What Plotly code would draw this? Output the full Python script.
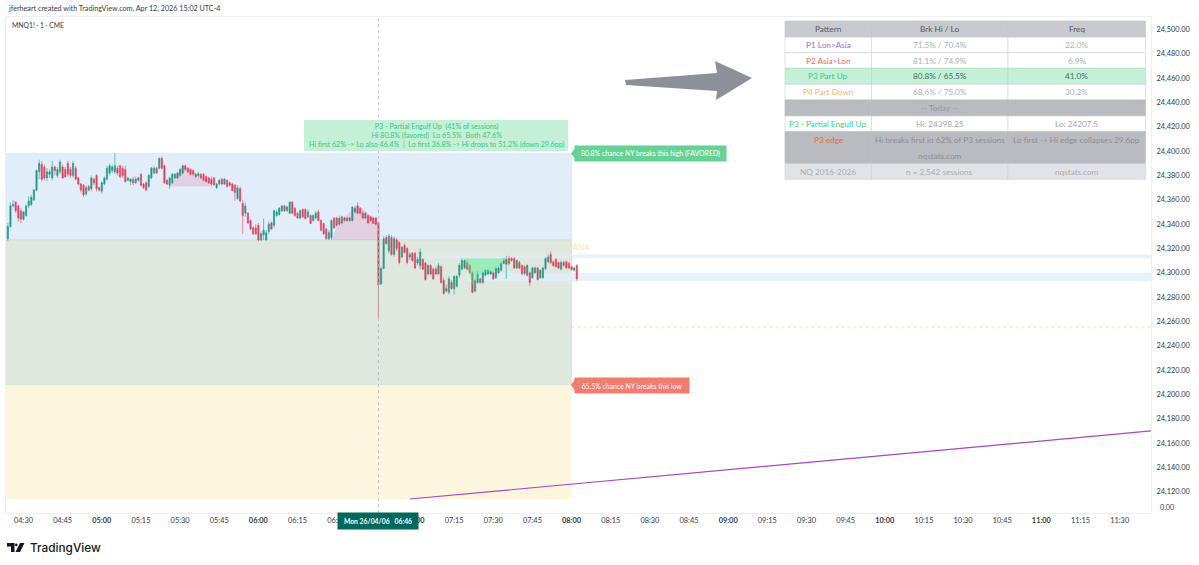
import pandas as pd
import plotly.graph_objects as go

W, H = 1199, 565
L, R, T, B = 6, 1151, 17, 513

# candle prices are offsets from 24000, one candle a minute from 04:24
BASE = 24000
open_off = [328, 338, 355, 358, 355, 351, 344, 347, 355, 356, 360, 368, 383, 389, 387, 378, 381, 378, 387, 380,
            383, 387, 385, 390, 385, 380, 386, 378, 373, 372, 365, 371, 369, 377, 380, 370, 367, 373, 377, 382,
            384, 383, 386, 388, 386, 385, 376, 375, 377, 374, 376, 381, 373, 374, 371, 378, 382, 386, 386, 394,
            388, 376, 372, 374, 378, 378, 380, 382, 388, 386, 385, 384, 379, 380, 381, 381, 379, 378, 377, 378,
            370, 373, 377, 373, 376, 374, 373, 372, 361, 369, 357, 349, 349, 343, 337, 337, 339, 327, 331, 327,
            334, 341, 339, 347, 348, 351, 355, 351, 349, 358, 353, 349, 345, 352, 352, 346, 347, 343, 345, 350,
            343, 340.5, 336, 328, 329, 345, 345, 340, 346, 343, 345, 343, 343, 350, 355, 353, 349, 345, 347, 346,
            345, 345, 341, 291, 303.5, 329, 318, 329, 315, 327, 325, 313, 322.5, 320, 313, 316, 316, 308, 306, 311,
            308, 299, 306, 303, 303, 299, 305, 293.6, 285, 284, 292, 287, 289, 298, 303, 304, 308, 306, 300, 285,
            292, 295, 292, 298, 299, 299, 300, 296, 300, 302, 307.6, 307, 311.7, 311.7, 311.7, 304, 308.4, 306, 305, 298,
            300, 296, 300, 304, 296, 296, 303.5, 309, 315, 309, 311, 308.4, 303, 308.4, 309, 307.6, 305, 302, 306]
close_off = [338, 355, 356, 351, 345, 344, 350, 355, 359, 362, 368, 384, 390, 377, 378, 383, 383, 387, 384, 385,
             391, 378, 379, 381, 380, 390, 377, 373, 368, 364, 370, 368, 378, 374, 369, 368, 374, 378, 386, 388,
             387, 388, 382, 379, 380, 375, 378, 377, 374, 377, 378, 372, 370, 368, 380, 386, 386, 382, 394, 386,
             374, 373, 378, 381, 381, 382, 385, 388, 385, 383, 381, 381, 381, 381.5, 378, 376, 375, 374, 373, 372.5,
             373, 376, 373, 377, 371, 372, 367.5, 366, 370, 359, 347, 355, 341, 336, 332, 332, 327, 332, 335, 333,
             340, 336, 351, 350, 353, 355, 351, 354, 358, 349, 347, 345, 351, 346, 344.5, 350, 340.5, 347, 349, 343,
             335, 332, 328, 333, 343, 337, 339, 345, 341, 345, 343, 345, 354, 353, 349, 349, 345, 349, 341, 343,
             340.5, 340, 290, 303.5, 328, 324, 330, 315, 328, 320, 308.4, 321, 316.6, 308.4, 315, 310, 304, 311, 317, 303,
             294.5, 306, 299, 295, 299, 306, 292, 283, 287, 295, 287, 297, 297, 306, 310, 310, 303, 300, 284, 293.6,
             299, 292, 300, 302, 302, 301, 295, 303.5, 304, 307.6, 310, 311, 307.6, 310, 304, 310, 304, 299.4, 299.4, 306,
             292, 304, 304, 294.5, 302, 304, 311.7, 313, 308.4, 306, 305, 304, 308.4, 306, 304, 304, 302.5, 304, 295]
high_off = [341, 358, 360, 359, 356, 353, 351, 356, 363, 364, 369, 385, 393, 392, 389, 386, 385, 392, 388, 387,
            393, 389, 387, 392, 387, 392, 388, 379, 374, 373, 372, 372, 380, 378, 381, 371, 375, 379, 388, 390,
            389, 398.25, 388, 389, 388, 388, 379, 378, 379, 379, 379, 382, 374, 375, 381, 387, 388, 387, 395, 396,
            389, 377, 379, 382, 382, 383, 386, 389, 389, 387, 386, 385, 382, 383, 382, 382, 380, 379, 379, 379,
            374, 377, 378, 378, 377, 375, 374, 373, 372, 371, 360, 358, 350, 344, 338, 340, 341, 334, 344.5, 335,
            342, 342, 352, 352, 354, 356, 356, 355, 359, 359, 354, 350, 352, 353, 353, 352, 348, 348, 351, 352,
            344, 341, 337, 335, 344, 346, 346, 347, 347, 346, 346, 346, 355, 355, 358, 354, 351, 350, 348, 347,
            346, 346, 342, 305, 330, 331, 332, 331, 330, 329, 326, 322, 324, 321, 317, 317, 317, 313, 320, 312,
            309, 307, 307, 304, 305, 308, 306, 296, 290, 297, 294, 298, 298, 308, 312, 311, 310, 307, 301, 295,
            301, 296, 301, 303, 303, 302, 301, 305, 306, 309, 312, 314, 314, 313, 313, 311, 310, 307, 306, 307,
            301, 305, 305, 305, 303, 305, 313, 315, 317.5, 310, 312, 309, 310, 310, 310, 309, 306, 305, 307]
low_off = [326, 337, 354, 349, 342, 341, 343, 346, 353, 355, 359, 367, 377, 375, 376, 375, 378, 376, 380, 378,
           381, 377, 378, 379, 378, 378, 376, 372, 366, 362, 363, 367, 367, 372, 367, 367, 365, 372, 376, 380,
           382, 381, 380, 378, 378, 374, 375, 372, 372, 373, 375, 371, 369, 367, 370, 377, 381, 381, 385, 385,
           373, 372, 369, 373, 377, 377, 379, 381, 384, 382, 380, 380, 378, 379, 377, 375, 374, 373, 372, 372,
           369, 372, 372, 372, 370, 371, 367, 359, 360, 358, 332, 346, 340, 335, 331, 331, 326, 326, 327, 326.5,
           332, 335, 337, 346, 347, 350, 350, 350, 348, 348, 346, 344, 344, 345, 344, 345, 340, 342, 344, 342,
           334, 331, 327, 327, 327, 336, 338, 339, 340, 342, 342, 342, 342, 349, 348, 348, 344, 344, 340, 342,
           340, 339, 263, 290, 303, 323, 316, 314, 313, 318, 307, 312, 316, 307, 311, 309, 303, 306, 303, 302,
           293.5, 298, 298, 294, 298, 298, 291, 282, 284, 282, 286, 282, 288, 296, 302, 303, 302, 299, 283, 284,
           291, 291, 291, 297, 298, 298, 294, 295, 299, 301, 307, 295, 306, 309, 303, 303, 303, 298, 298, 297,
           289, 295, 299, 293.5, 295, 295, 302, 308, 307, 305, 304, 303, 302, 305, 303, 303, 302, 301, 293.5]

# levels from the table and the zones drawn on the chart
zone_hi = 24398.25
zone_mid = 24327
zone_lo = 24207.5
zone_floor = 24114
band1 = (24312, 24315)
band2 = (24293, 24300)
dotted_level = 24255.5

pink1_t = ["05:26", "05:31", "05:37", "05:44"]
pink1_p = [24371, 24388, 24381, 24371]
pink2_t = ["06:28", "06:31", "06:38", "06:46", "06:46"]
pink2_p = [24327, 24342, 24356, 24342, 24327]
green_t = ["07:19", "07:22", "07:26", "07:30", "07:35"]
green_p = [24311.7, 24290, 24300, 24301, 24311.7]
trend_t = ["06:58", "11:42"]
trend_p = [24114, 24170]

time_labels = ["04:30", "04:45", "05:00", "05:15", "05:30", "05:45", "06:00", "06:15", "06:30", "06:45", "07:00",
               "07:15", "07:30", "07:45", "08:00", "08:15", "08:30", "08:45", "09:00", "09:15", "09:30", "09:45",
               "10:00", "10:15", "10:30", "10:45", "11:00", "11:15", "11:30"]
price_ticks = [24120, 24140, 24160, 24180, 24200, 24220, 24240, 24260, 24280, 24300, 24320, 24340, 24360, 24380,
               24400, 24420, 24440, 24460, 24480, 24500]

table_rows = [
    ["Pattern", "Brk Hi / Lo", "Freq"],
    ["P1 Lon>Asia", "71.5% / 70.4%", "22.0%"],
    ["P2 Asia>Lon", "81.1% / 74.9%", "6.9%"],
    ["P3 Part Up", "80.8% / 65.5%", "41.0%"],
    ["P4 Part Down", "68.6% / 75.0%", "30.2%"],
    ["", "-- Today --", ""],
    ["P3 - Partial Engulf Up", "Hi: 24398.25", "Lo: 24207.5"],
    ["P3 edge", "Hi breaks first in 62% of P3 sessions", "Lo first -> Hi edge collapses 29.6pp"],
    ["NQ 2016-2026", "n = 2,542 sessions", "nqstats.com"],
]
row_fill = ["#c9cacf", "#ffffff", "#ffffff", "#c4f0d7", "#ffffff", "#b9bbc1", "#ffffff", "#b9bbc1", "#e2e3e8"]
row_line = ["#c4c5ca", "#d5d7db", "#d5d7db", "#aee0c4", "#d5d7db", "#b9bbc1", "#d5d7db", "#b9bbc1", "#d0d2d7"]
name_color = ["#55575e", "#a66bc4", "#e8685f", "#35c987", "#f2b26e", "#9a9ca2", "#2fd488", "#d9743c", "#a9abb1"]
value_color = ["#55575e", "#adafb4", "#adafb4", "#3f6f57", "#adafb4", "#94969c", "#a3a5aa", "#8d8f95", "#a9abb1"]

# table grid in page pixels
col_edges = [785, 871.5, 1008, 1145.5]
row_edges = [21, 37.3, 52.7, 68.3, 84.3, 100, 116, 131.7, 163.7, 179.3]

FONT = "Lato, sans-serif"
INK = "#363a45"


# pixel in the page -> paper fraction, paper is the plot area
def px(x):
    return (x - L) / (R - L)


def py(y):
    return (B - y) / (B - T)


def clock(s):
    return f"2026-04-06 {s}"


def poly(points):
    return "M " + " L ".join(f"{px(a):.5f},{py(b):.5f}" for a, b in points) + " Z"


df = pd.DataFrame({"open": open_off, "high": high_off, "low": low_off, "close": close_off}) + BASE
df.index = pd.date_range("2026-04-06 04:24", periods=len(df), freq="min")

fig = go.Figure()
for name, ts, ps, col in [("pink1", pink1_t, pink1_p, "rgba(226,60,100,0.17)"),
                          ("pink2", pink2_t, pink2_p, "rgba(226,60,100,0.17)"),
                          ("green", green_t, green_p, "rgba(60,240,130,0.42)")]:
    fig.add_trace(go.Scatter(x=[clock(t) for t in ts], y=ps, mode="lines", fill="toself", fillcolor=col,
                             line=dict(width=0), name=name, showlegend=False, hoverinfo="skip"))
fig.add_trace(go.Candlestick(x=df.index, open=df["open"], high=df["high"], low=df["low"], close=df["close"],
                             increasing=dict(line=dict(color="#1f9a84", width=0.6), fillcolor="#1f9a84"),
                             decreasing=dict(line=dict(color="#e2405c", width=0.6), fillcolor="#e2405c"),
                             showlegend=False, name="MNQ1!"))
fig.add_trace(go.Scatter(x=[clock(t) for t in trend_t], y=trend_p, mode="lines",
                         line=dict(color="#ab47bc", width=1.2), showlegend=False))

start, end, now = clock("04:23:18"), clock("08:00"), clock("06:46")
shapes = [
    dict(type="rect", x0=start, x1=end, y0=zone_mid, y1=zone_hi, fillcolor="#e1eefa",
         line=dict(color="#cfe3f5", width=0.6), layer="below"),
    dict(type="rect", x0=start, x1=end, y0=zone_lo, y1=zone_mid, fillcolor="#dfe8de",
         line=dict(color="#cdd9cc", width=0.6), layer="below"),
    dict(type="rect", x0=start, x1=end, y0=zone_floor, y1=zone_lo, fillcolor="#fdf6de",
         line=dict(width=0), layer="below"),
    dict(type="rect", x0=clock("07:00"), x1=clock("11:42"), y0=band1[0], y1=band1[1], fillcolor="rgba(225,238,250,0.7)",
         line=dict(width=0), layer="below"),
    dict(type="rect", x0=clock("07:20"), x1=clock("11:42"), y0=band2[0], y1=band2[1], fillcolor="rgba(225,238,250,0.8)",
         line=dict(width=0), layer="below"),
    dict(type="line", x0=end, x1=clock("11:42"), y0=dotted_level, y1=dotted_level,
         line=dict(color="#f6dcc0", width=1, dash="dot")),
    dict(type="line", x0=now, x1=now, yref="paper", y0=0, y1=1, line=dict(color="#a9afb6", width=0.7, dash="dot")),
    dict(type="rect", xref="paper", yref="paper", x0=px(304), x1=px(568), y0=py(151), y1=py(120),
         fillcolor="#c5f0d8", line=dict(width=0)),
    # big arrow
    dict(type="path", xref="paper", yref="paper", fillcolor="#8e9099", line=dict(width=0),
         path=poly([(625, 80), (717, 73), (715, 61), (752, 78), (716, 100), (717, 91), (626, 85)])),
    # label pointers
    dict(type="path", xref="paper", yref="paper", fillcolor="#62d394", line=dict(width=0),
         path=poly([(571, 153.5), (576, 147), (576, 160)])),
    dict(type="path", xref="paper", yref="paper", fillcolor="#f27c70", line=dict(width=0),
         path=poly([(571, 385), (576, 378), (576, 392)])),
    # TradingView logo
    dict(type="path", xref="paper", yref="paper", fillcolor="#131722", line=dict(width=0),
         path=poly([(7, 543), (14.5, 543), (14.5, 552), (11, 552), (11, 546.5), (7, 546.5)])),
    dict(type="circle", xref="paper", yref="paper", x0=px(15), x1=px(17.6), y0=py(546.2), y1=py(543.6),
         fillcolor="#131722", line=dict(width=0)),
    dict(type="path", xref="paper", yref="paper", fillcolor="#131722", line=dict(width=0),
         path=poly([(20, 543), (24.5, 543), (20, 552), (15.5, 552)])),
]


def note(text, x, y, size=8, color=INK, anchor="left", **kw):
    return dict(text=text, xref="paper", yref="paper", x=px(x), y=py(y), xanchor=anchor, yanchor="middle",
                showarrow=False, font=dict(family=FONT, size=size, color=color), **kw)


annotations = [
    note("jferheart created with TradingView.com, Apr 12, 2026 15:02 UTC-4", 6, 8, 7.2),
    note("MNQ1! · 1 · CME", 10, 24.5, 6.8),
    note("P3 - Partial Engulf Up  (41% of sessions)<br>Hi 80.8% (favored)  Lo 65.5%  Both 47.6%<br>"
         "Hi first 62% -> Lo also 46.4%  |  Lo first 36.8% -> Hi drops to 51.2% (down 29.6pp)",
         436, 135.5, 7.1, "#34c77f", anchor="center", align="center"),
    note("80.8% chance NY breaks this high (FAVORED)", 650.5, 153.5, 6.9, "#ffffff", anchor="center",
         bgcolor="#62d394", width=149, height=13),
    note("65.5% chance NY breaks this low", 632, 385, 6.9, "#ffffff", anchor="center",
         bgcolor="#f27c70", width=112, height=13),
    note("ASIA", 571, 247, 7.5, "#f6e3ab"),
    note("0.00", 1158, 507, 7.2),
    note("<b>Mon 26/04/06   06:46</b>", 378, 520.5, 6.8, "#ffffff", anchor="center", bgcolor="#00695c",
         width=78, height=14),
    dict(text="TradingView", xref="paper", yref="paper", x=px(28), y=py(547.5), xanchor="left", yanchor="middle",
         showarrow=False, font=dict(family="Inter, sans-serif", size=11.8, color="#131722", weight=500)),
]

# the pattern table, cell by cell
for r, row in enumerate(table_rows):
    top, bottom = row_edges[r], row_edges[r + 1]
    for c, text in enumerate(row):
        shapes.append(dict(type="rect", xref="paper", yref="paper", x0=px(col_edges[c]), x1=px(col_edges[c + 1]),
                           y0=py(bottom), y1=py(top), fillcolor=row_fill[r],
                           line=dict(color=row_line[r], width=0.7)))
        color = name_color[r] if c == 0 else value_color[r]
        mid = (col_edges[c] + col_edges[c + 1]) / 2
        # the edge row is two lines tall, its text sits on the first line
        if text:
            annotations.append(note(text, mid, top + 7.9, 8.2, color, anchor="center"))
annotations.append(note("nqstats.com", (col_edges[1] + col_edges[2]) / 2, 155.7, 8.2, value_color[7], anchor="center"))

tick_text = [f"<b>{t}</b>" if t.endswith(":00") else t for t in time_labels]

fig.update_layout(
    width=W, height=H, autosize=False,
    margin=dict(l=L, r=W - R, t=T, b=H - B, pad=0),
    paper_bgcolor="#ffffff", plot_bgcolor="#ffffff",
    font=dict(family=FONT, size=7.2, color=INK),
    showlegend=False, shapes=shapes, annotations=annotations,
    xaxis=dict(range=[start, clock("11:42:00")], rangeslider=dict(visible=False), type="date",
               tickmode="array", tickvals=[clock(t) for t in time_labels], ticktext=tick_text,
               showgrid=False, zeroline=False, ticks="", showline=True, linecolor="#eef0f4",
               mirror=True, tickangle=0, tickfont=dict(family=FONT, size=7.4, color=INK)),
    yaxis=dict(range=[24102.5, 24510.3], side="right", tickmode="array", tickvals=price_ticks,
               tickformat=",.2f", showgrid=False, zeroline=False, ticks="", showline=True,
               linecolor="#eef0f4", mirror=True, ticklabelstandoff=3,
               tickfont=dict(family=FONT, size=7.4, color=INK)),
)

fig.write_html("out.html", config=dict(displayModeBar=False), post_script="document.body.style.margin='0';")
